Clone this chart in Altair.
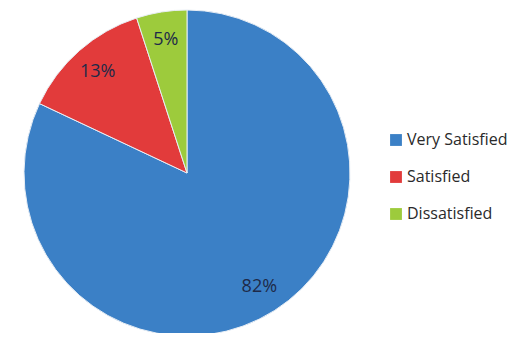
import altair as alt
import pandas as pd

categories = ["Very Satisfied", "Satisfied", "Dissatisfied"]
values = [82, 13, 5]
labels = ["82%", "13%", "5%"]
colors = ["#3b80c6", "#e23b3b", "#9dcb3c"]

df = pd.DataFrame({"cat": categories, "val": values, "label": labels, "order": [0, 1, 2]})

base = alt.Chart(df).encode(
    theta=alt.Theta("val:Q", stack=True),
    order=alt.Order("order:Q"),
    x=alt.value(179),
    y=alt.value(165),
)

pie = base.mark_arc(outerRadius=163, stroke="#e8eef5", strokeWidth=1).encode(
    color=alt.Color(
        "cat:N",
        scale=alt.Scale(domain=categories, range=colors),
        legend=alt.Legend(
            title=None,
            orient="none",
            legendX=380,
            legendY=124,
            symbolType="square",
            symbolSize=140,
            symbolStrokeWidth=0,
            labelFontSize=16,
            labelFont="Open Sans",
            labelColor="#2a2a2a",
            labelOffset=3,
            rowPadding=21,
        ),
    )
)

text = base.mark_text(radius=135, fontSize=18, font="Open Sans", color="#1e2a48").encode(
    text="label:N"
)

chart = (
    (pie + text)
    .properties(width=516, height=325, autosize=alt.AutoSizeParams(type="none"), padding=0)
    .configure_view(stroke=None)
)

chart.save("out.html", embed_options={"renderer": "svg", "actions": False})
